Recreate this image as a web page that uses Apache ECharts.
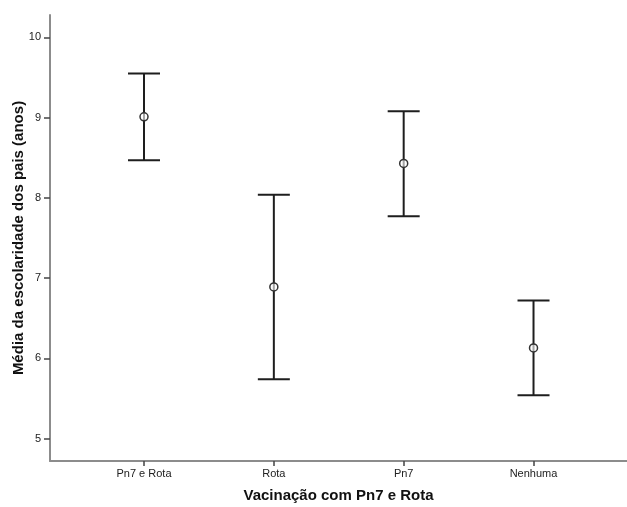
<!DOCTYPE html>
<html>
<head>
<meta charset="utf-8">
<script src="https://cdn.jsdelivr.net/npm/echarts@6/dist/echarts.min.js"></script>
<style>
  html, body { margin: 0; padding: 0; background: #fff; }
  #chart { width: 627px; height: 507px; }
</style>
</head>
<body>
<div id="chart"></div>
<script>
// grupos de vacinação
var categories = ['Pn7 e Rota', 'Rota', 'Pn7', 'Nenhuma'];
// média e IC 95%
var means = [9.01, 6.89, 8.43, 6.13];
var lower = [8.47, 5.74, 7.77, 5.54];
var upper = [9.55, 8.04, 9.08, 6.72];
var yTicks = [5, 6, 7, 8, 9, 10];

var chart = echarts.init(document.getElementById('chart'));

var data = categories.map(function (c, i) {
    return [i, lower[i], upper[i], means[i]];
});

var font = 'Liberation Sans, Arial, sans-serif';

chart.setOption({
    animation: false,
    grid: { left: 50, right: 0, top: 15, bottom: 46, outerBoundsMode: 'none', containLabel: false },
    xAxis: {
        type: 'value',
        min: -0.724,
        max: 3.72,
        name: 'Vacinação com Pn7 e Rota',
        nameLocation: 'middle',
        nameGap: 27,
        nameTextStyle: { fontFamily: font, fontSize: 15, fontWeight: 'bold', color: '#111' },
        axisLine: { onZero: false, lineStyle: { color: '#8c8c8c', width: 2 } },
        axisTick: { show: true, length: 5, customValues: [0, 1, 2, 3], lineStyle: { color: '#444', width: 1.5 } },
        axisLabel: {
            customValues: [0, 1, 2, 3],
            margin: 7,
            fontFamily: font, fontSize: 11, color: '#222',
            formatter: function (v) { return categories[Math.round(v)]; }
        },
        splitLine: { show: false }
    },
    yAxis: {
        type: 'value',
        min: 4.72,
        max: 10.28,
        name: 'Média da escolaridade dos pais (anos)',
        nameLocation: 'middle',
        nameGap: 24,
        nameMoveOverlap: false,
        nameTextStyle: { fontFamily: font, fontSize: 15, fontWeight: 'bold', color: '#111' },
        axisLine: { show: true, onZero: false, lineStyle: { color: '#8c8c8c', width: 2 } },
        axisTick: { show: true, length: 6, customValues: yTicks, lineStyle: { color: '#444', width: 1.5 } },
        axisLabel: {
            customValues: yTicks,
            margin: 9,
            fontFamily: font, fontSize: 11, color: '#222'
        },
        splitLine: { show: false }
    },
    series: [{
        type: 'custom',
        data: data,
        renderItem: function (params, api) {
            var x = api.value(0);
            var pLow = api.coord([x, api.value(1)]);
            var pHigh = api.coord([x, api.value(2)]);
            var pMean = api.coord([x, api.value(3)]);
            var half = 16;
            var stroke = { stroke: '#1e1e1e', lineWidth: 2 };
            return {
                type: 'group',
                children: [
                    { type: 'line', shape: { x1: pLow[0], y1: pLow[1], x2: pHigh[0], y2: pHigh[1] }, style: stroke },
                    { type: 'line', shape: { x1: pHigh[0] - half, y1: pHigh[1], x2: pHigh[0] + half, y2: pHigh[1] }, style: stroke },
                    { type: 'line', shape: { x1: pLow[0] - half, y1: pLow[1], x2: pLow[0] + half, y2: pLow[1] }, style: stroke },
                    { type: 'circle', shape: { cx: pMean[0], cy: pMean[1], r: 4 }, style: { fill: 'rgba(255,255,255,0.6)', stroke: '#333', lineWidth: 1.5 } }
                ]
            };
        }
    }]
});
</script>
</body>
</html>
